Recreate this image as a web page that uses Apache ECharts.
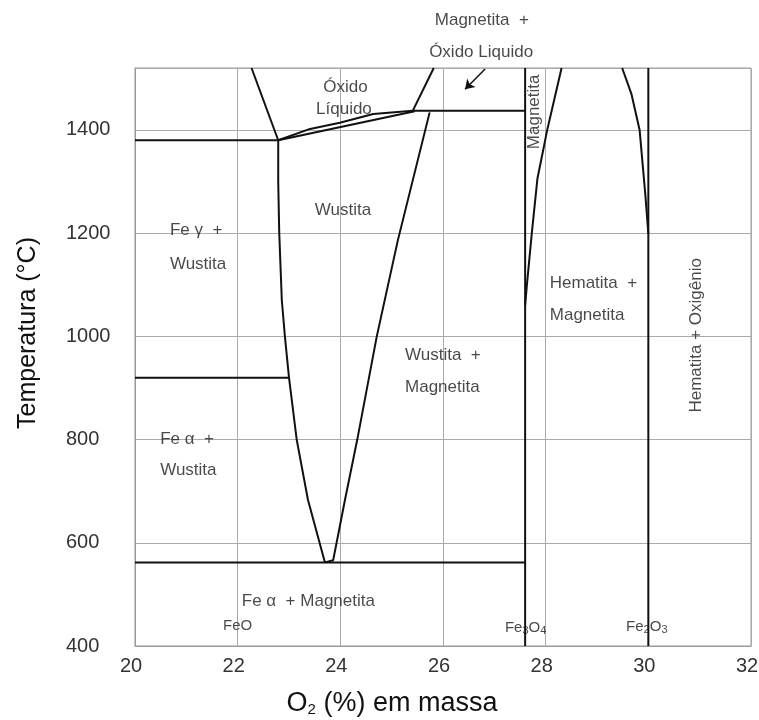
<!DOCTYPE html>
<html><head><meta charset="utf-8">
<script src="https://cdn.jsdelivr.net/npm/echarts@6/dist/echarts.min.js"></script>
<style>html,body{margin:0;padding:0;background:#fff}#c{width:759px;height:720px}</style>
</head><body><div id="c"></div>
<script>
// ---- axis ranges ----
const xRange = [20, 32];
const xStep = 2;
const yRange = [400, 1520];
const yStep = 200;

// ---- phase boundaries [O2 %, T °C] ----
const liquidusLeft   = [[22.27,1520],[22.79,1380]];
const gammaEutectic  = [[20,1380],[22.79,1380]];
const wustiteField   = [[22.79,1380],[22.79,1300],[22.81,1200],[22.86,1070],[22.92,1000],[23.0,920],[23.15,800],[23.37,683],[23.7,562],
                        [23.86,566],[24.09,683],[24.33,800],[24.71,1000],[25.12,1186],[25.74,1434]];
const liquidUpper    = [[22.79,1380],[23.41,1402],[23.99,1414],[24.64,1431],[25.41,1437]];
const liquidLower    = [[22.79,1380],[25.45,1436]];
const liquidusRight  = [[25.41,1437],[25.82,1520]];
const peritectic     = [[25.41,1437],[27.6,1437]];
const alphaGamma     = [[20,920],[23.0,920]];
const eutectoid      = [[20,562],[27.6,562]];
const fe3o4Line      = [[27.6,400],[27.6,1520]];
const fe2o3Line      = [[30,400],[30,1520]];
const magnetiteCurve = [[27.6,1060],[27.63,1095],[27.73,1200],[27.84,1306],[27.95,1360],[28.03,1400],[28.31,1520]];
const hematiteCurve  = [[29.49,1520],[29.67,1470],[29.83,1400],[29.94,1276],[30.0,1199]];
const arrowFromTo    = [[26.82,1518],[26.43,1479]];

// ---- region texts: [text, x, T] ----
const centeredTexts = [
  ['Óxido', 24.10, 1482],
  ['Líquido', 24.07, 1439],
  ['Wustita', 24.05, 1244]
];
const leftTexts = [
  ['Fe γ  +', 20.68, 1205],
  ['Wustita', 20.68, 1139],
  ['Fe α  +', 20.49, 801],
  ['Wustita', 20.49, 741],
  ['Fe α  + Magnetita', 22.08, 486],
  ['Wustita  +', 25.26, 963],
  ['Magnetita', 25.26, 901],
  ['Hematita  +', 28.08, 1103],
  ['Magnetita', 28.08, 1041],
  ['Magnetita  +', 25.84, 1613],
  ['Óxido Liquido', 25.73, 1550]
];
const verticalTexts = [
  ['Hematita + Oxigênio', 30.94, 1002],
  ['Magnetita', 27.77, 1435]
];
const compoundTexts = [
  ['{n|FeO}', 22.0, 439],
  ['{n|Fe}{s|3}{n|O}{s|4}', 27.61, 435],
  ['{n|Fe}{s|2}{n|O}{s|3}', 29.97, 437]
];

const FONT = '"Liberation Sans", Arial, Helvetica, sans-serif';
const TXT = '#1a1a1a';

function boundary(data) {
  return {type:'line', data:data, showSymbol:false, symbol:'none', silent:true, z:3,
          lineStyle:{color:'#111', width:2}, animation:false};
}
function textSeries(list, extra) {
  return {
    type:'scatter', clip:false, silent:true, z:5, symbolSize:1,
    itemStyle:{color:'rgba(0,0,0,0)'},
    data:list.map(t => ({value:[t[1], t[2]], name:t[0]})),
    label:Object.assign({show:true, position:'inside', formatter:p => p.name,
      color:TXT, fontSize:17, fontFamily:FONT}, extra || {})
  };
}

const chart = echarts.init(document.getElementById('c'));
chart.setOption({
  animation:false,
  backgroundColor:'#fff',
  grid:{left:135, right:8, top:68, bottom:74, show:true, borderColor:'#999', borderWidth:1,
        containLabel:false, outerBoundsMode:'none'},
  xAxis:{type:'value', min:xRange[0], max:xRange[1], interval:xStep,
    axisLine:{show:true, lineStyle:{color:'#999'}}, axisTick:{show:false},
    axisLabel:{fontSize:20, color:'#333', fontFamily:FONT, margin:10, padding:[0,8,0,0]},
    splitLine:{show:true, lineStyle:{color:'#aaa', width:1}}},
  yAxis:{type:'value', min:yRange[0], max:yRange[1], interval:yStep,
    axisLine:{show:true, lineStyle:{color:'#999'}}, axisTick:{show:false},
    axisLabel:{fontSize:20, color:'#333', fontFamily:FONT, margin:69, align:'left',
      formatter:v => (v % yStep === 0 ? String(v) : '')},
    splitLine:{show:true, lineStyle:{color:'#aaa', width:1}}},
  graphic:[
    {type:'text', x:28, y:333, rotation:Math.PI/2, z:10,
     style:{text:'Temperatura (°C)', font:'25px ' + FONT, fill:'#111', align:'center', verticalAlign:'middle'}},
    {type:'text', x:392, y:704, z:10,
     style:{text:'{a|O}{s|2}{a| (%) em massa}', align:'center', verticalAlign:'middle',
       rich:{a:{fontSize:27, fontFamily:FONT, fill:'#111'},
             s:{fontSize:15, fontFamily:FONT, fill:'#111', verticalAlign:'bottom', padding:[8,0,0,0]}}}}
  ],
  series:[
    boundary(liquidusLeft), boundary(gammaEutectic), boundary(wustiteField),
    boundary(liquidUpper), boundary(liquidLower), boundary(liquidusRight),
    boundary(peritectic), boundary(alphaGamma), boundary(eutectoid),
    boundary(fe3o4Line), boundary(fe2o3Line), boundary(magnetiteCurve), boundary(hematiteCurve),
    {type:'line', data:[], silent:true,
     markLine:{silent:true, symbol:['none','arrow'], symbolSize:9, animation:false,
       lineStyle:{color:'#111', width:1.5, type:'solid'}, label:{show:false},
       data:[[{coord:arrowFromTo[0]},{coord:arrowFromTo[1]}]]}},
    textSeries(centeredTexts),
    textSeries(leftTexts, {align:'left'}),
    textSeries(verticalTexts, {rotate:90}),
    textSeries(compoundTexts, {formatter:p => p.name, fontSize:15,
      rich:{n:{fontSize:15, fontFamily:FONT, color:TXT},
            s:{fontSize:11, fontFamily:FONT, color:TXT, verticalAlign:'bottom', padding:[6,0,0,0]}}})
  ]
});
</script></body></html>
